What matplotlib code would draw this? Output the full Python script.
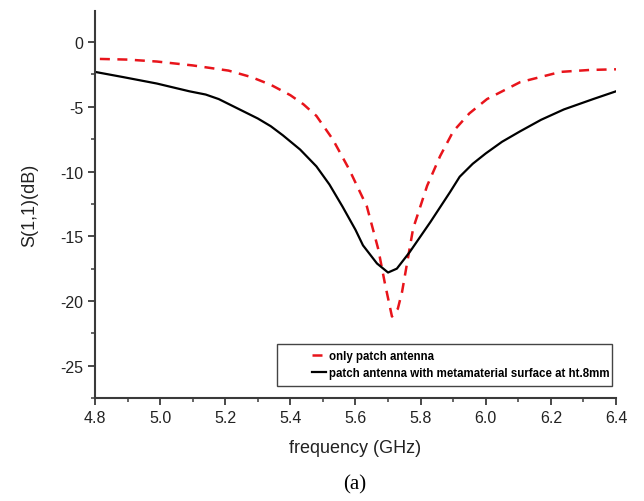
import numpy as np
import matplotlib
matplotlib.use("Agg")
import matplotlib.pyplot as plt
from matplotlib.ticker import MultipleLocator
from matplotlib.patches import Rectangle

# only patch antenna (red dashed)
freq_patch = [4.815, 4.90, 4.99, 5.10, 5.21, 5.28, 5.34, 5.40, 5.44, 5.48, 5.53,
              5.58, 5.635, 5.67, 5.69, 5.712, 5.73, 5.743, 5.777, 5.82, 5.86,
              5.90, 5.95, 6.004, 6.105, 6.23, 6.32, 6.40]
s11_patch = [-1.3, -1.35, -1.5, -1.8, -2.2, -2.7, -3.3, -4.1, -4.8, -5.7, -7.5,
             -9.8, -12.7, -16.0, -18.6, -21.2, -20.6, -19.3, -14.4, -11.1, -8.8,
             -6.9, -5.5, -4.4, -3.1, -2.3, -2.15, -2.1]

# patch antenna with metamaterial surface (black solid)
freq_meta = [4.80, 4.886, 4.99, 5.09, 5.14, 5.18, 5.22, 5.26, 5.30, 5.34, 5.377,
             5.43, 5.48, 5.52, 5.56, 5.60, 5.623, 5.666, 5.70, 5.727, 5.767,
             5.83, 5.89, 5.92, 5.96, 6.00, 6.05, 6.105, 6.17, 6.24, 6.33, 6.40]
s11_meta = [-2.3, -2.7, -3.2, -3.8, -4.05, -4.4, -4.9, -5.4, -5.9, -6.5, -7.2,
            -8.3, -9.6, -11.0, -12.7, -14.5, -15.7, -17.1, -17.8, -17.5, -16.2,
            -13.9, -11.6, -10.4, -9.4, -8.6, -7.7, -6.9, -6.0, -5.2, -4.4, -3.8]

plt.rcParams['font.family'] = ['Liberation Sans', 'DejaVu Sans']
plt.rcParams['axes.unicode_minus'] = False

fig = plt.figure(figsize=(6.44, 5.02), dpi=100)
ax = fig.add_axes([0.1475, 0.205, 0.809, 0.771])

ax.plot(freq_patch, s11_patch, color='#e8141b', linestyle=(0, (4, 3)), linewidth=1.8,
        label='only patch antenna')
ax.plot(freq_meta, s11_meta, color='black', linewidth=1.6,
        label='patch antenna with metamaterial surface at ht.8mm')

ax.set_xlim(4.8, 6.4)
ax.set_ylim(-27.5, 2.4)
ax.xaxis.set_major_locator(MultipleLocator(0.2))
ax.xaxis.set_minor_locator(MultipleLocator(0.1))
ax.yaxis.set_major_locator(MultipleLocator(5))
ax.yaxis.set_minor_locator(MultipleLocator(2.5))
ax.xaxis.set_major_formatter(plt.FormatStrFormatter('%.1f'))

for side in ['top', 'right']:
    ax.spines[side].set_visible(False)
for side in ['left', 'bottom']:
    ax.spines[side].set_color('#3a3a3a')
    ax.spines[side].set_linewidth(1.5)

ax.tick_params(which='major', direction='out', length=5, width=1.3, color='#3a3a3a',
               labelsize=11.5, labelcolor='#222222')
ax.tick_params(which='minor', direction='out', length=3, width=1.1, color='#3a3a3a')

ax.set_xlabel('frequency (GHz)', fontsize=13, color='#222222', labelpad=10)
ax.set_ylabel('S(1,1)(dB)', fontsize=13, color='#222222', labelpad=16)

# legend frame drawn separately (Origin style, wide box)
ax.add_patch(Rectangle((0.349, 0.031), 0.643, 0.1085, transform=ax.transAxes,
                       facecolor='white', edgecolor='#444444', linewidth=1.0, zorder=4))
leg = ax.legend(loc='center left', bbox_to_anchor=(0.4165, 0.087),
                prop={'weight': 'bold', 'size': 8.3}, handlelength=1.2,
                handletextpad=0.25, borderpad=0, labelspacing=0.45,
                frameon=False, borderaxespad=0)
leg.set_zorder(5)

fig.text(0.551, 0.034, '(a)', fontsize=15, family='Liberation Serif',
         ha='center', va='center')

fig.savefig('out.png', dpi=100, facecolor='white')
